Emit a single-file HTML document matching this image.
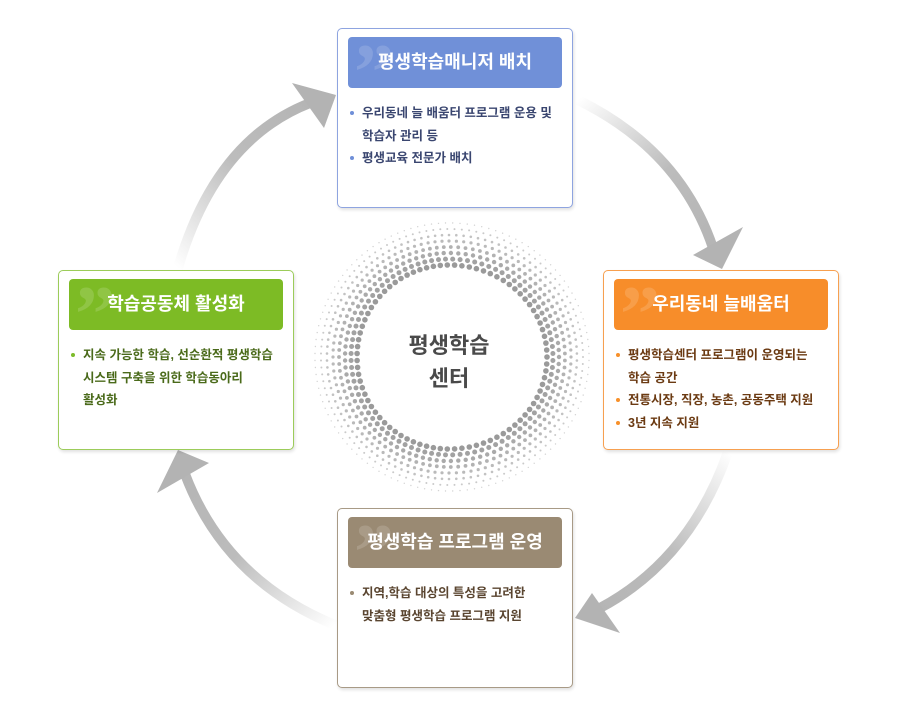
<!DOCTYPE html>
<html><head><meta charset="utf-8">
<style>
body{margin:0;background:#fff;width:900px;height:716px;position:relative;overflow:hidden;font-family:"Liberation Sans","Noto Sans CJK KR",sans-serif;}
.box{position:absolute;width:234px;height:178px;background:#fff;border-radius:5px;box-shadow:1px 2px 3px rgba(0,0,0,0.12);}
.hd{position:absolute;left:10px;top:8px;width:214px;height:51px;border-radius:4px;color:#fff;font-size:18px;font-weight:bold;text-align:center;line-height:51px;overflow:hidden;}
.hd i{position:absolute;left:6px;top:-4px;font-style:normal;font-size:80px;color:rgba(255,255,255,0.15);font-family:"Liberation Serif",serif;line-height:80px;}
.hd span{position:relative}
ul{position:absolute;left:10px;top:73px;margin:0;padding:0 0 0 14px;list-style:none;font-size:12.5px;font-weight:bold;line-height:22.5px;width:215px;white-space:nowrap;}
li{position:relative}
li:before{content:"";position:absolute;left:-12px;top:9px;width:4px;height:4px;border-radius:50%;background:var(--b)}
</style></head><body>
<svg width="900" height="716" style="position:absolute;left:0;top:0">
<defs>
<linearGradient id="g1" gradientUnits="userSpaceOnUse" x1="178" y1="268" x2="336" y2="95"><stop offset="0" stop-color="#fff"/><stop offset="0.5" stop-color="#bcbcbc"/><stop offset="1" stop-color="#b3b3b3"/></linearGradient>
<linearGradient id="g2" gradientUnits="userSpaceOnUse" x1="578" y1="100" x2="722" y2="268"><stop offset="0" stop-color="#fff"/><stop offset="0.5" stop-color="#bcbcbc"/><stop offset="1" stop-color="#b3b3b3"/></linearGradient>
<linearGradient id="g3" gradientUnits="userSpaceOnUse" x1="728" y1="452" x2="575" y2="618"><stop offset="0" stop-color="#fff"/><stop offset="0.5" stop-color="#bcbcbc"/><stop offset="1" stop-color="#b3b3b3"/></linearGradient>
<linearGradient id="g4" gradientUnits="userSpaceOnUse" x1="335" y1="625" x2="178" y2="450"><stop offset="0" stop-color="#fff"/><stop offset="0.5" stop-color="#bcbcbc"/><stop offset="1" stop-color="#b3b3b3"/></linearGradient>
</defs>
<path d="M178,268 Q215,140 310,103" stroke="url(#g1)" stroke-width="10" fill="none"/>
<polygon points="336,95 292,83 324,128" fill="#b3b3b3"/>
<path d="M578,100 Q680,150 713,248" stroke="url(#g2)" stroke-width="10" fill="none"/>
<polygon points="722,269 743,227 693,255" fill="#b3b3b3"/>
<path d="M728,452 Q690,560 600,608" stroke="url(#g3)" stroke-width="10" fill="none"/>
<polygon points="575,618 620,633 592,593" fill="#b3b3b3"/>
<path d="M335,625 Q225,580 185,474" stroke="url(#g4)" stroke-width="10" fill="none"/>
<polygon points="178,450 157,493 209,463" fill="#b3b3b3"/>
<g id="dots"></g>
<text x="449" y="353" text-anchor="middle" font-size="22" font-weight="bold" fill="#4a4a4a" font-family="Liberation Sans, Noto Sans CJK KR, sans-serif">평생학습</text>
<text x="449" y="386" text-anchor="middle" font-size="22" font-weight="bold" fill="#4a4a4a" font-family="Liberation Sans, Noto Sans CJK KR, sans-serif">센터</text>
</svg>
<script>
var g=document.getElementById('dots'),s='';
for(var k=0;k<8;k++){var r=92+k*6,n=Math.round(2*Math.PI*r/7),rad=2.8-k*0.3,op=1-k*0.08;
for(var i=0;i<n;i++){var a=i/n*2*Math.PI+(k%2)*Math.PI/n;var cx=449+r*Math.cos(a)+(Math.cos(a)>0?6*Math.cos(a):0),cy=357+r*Math.sin(a);
s+='<circle cx="'+cx.toFixed(1)+'" cy="'+cy.toFixed(1)+'" r="'+rad.toFixed(2)+'" fill="#9a9a9a" opacity="'+op.toFixed(2)+'"/>';}}
g.innerHTML=s;
</script>

<div class="box" style="left:337px;top:28px;border:1px solid #8ea4e0;--b:#6f8fd8">
<div class="hd" style="background:#7090d8"><i>”</i><span>평생학습매니저 배치</span></div>
<ul style="color:#3a4670"><li>우리동네 늘 배움터 프로그램 운용 및<br>학습자 관리 등</li><li>평생교육 전문가 배치</li></ul></div>

<div class="box" style="left:603px;top:270px;border:1px solid #f7a050;--b:#f7902a">
<div class="hd" style="background:#f78d2a"><i>”</i><span>우리동네 늘배움터</span></div>
<ul style="color:#6b3a12"><li>평생학습센터 프로그램이 운영되는<br>학습 공간</li><li>전통시장, 직장, 농촌, 공동주택 지원</li><li>3년 지속 지원</li></ul></div>

<div class="box" style="left:58px;top:270px;border:1px solid #9ccc5a;--b:#7dbb2a">
<div class="hd" style="background:#7dbb25"><i>”</i><span>학습공동체 활성화</span></div>
<ul style="color:#4a6a1a"><li>지속 가능한 학습, 선순환적 평생학습<br>시스템 구축을 위한 학습동아리<br>활성화</li></ul></div>

<div class="box" style="left:337px;top:508px;border:1px solid #a89a86;--b:#9a8a73">
<div class="hd" style="background:#9a8a73"><i>”</i><span>평생학습 프로그램 운영</span></div>
<ul style="color:#5a4530"><li>지역,학습 대상의 특성을 고려한<br>맞춤형 평생학습 프로그램 지원</li></ul></div>
</body></html>
